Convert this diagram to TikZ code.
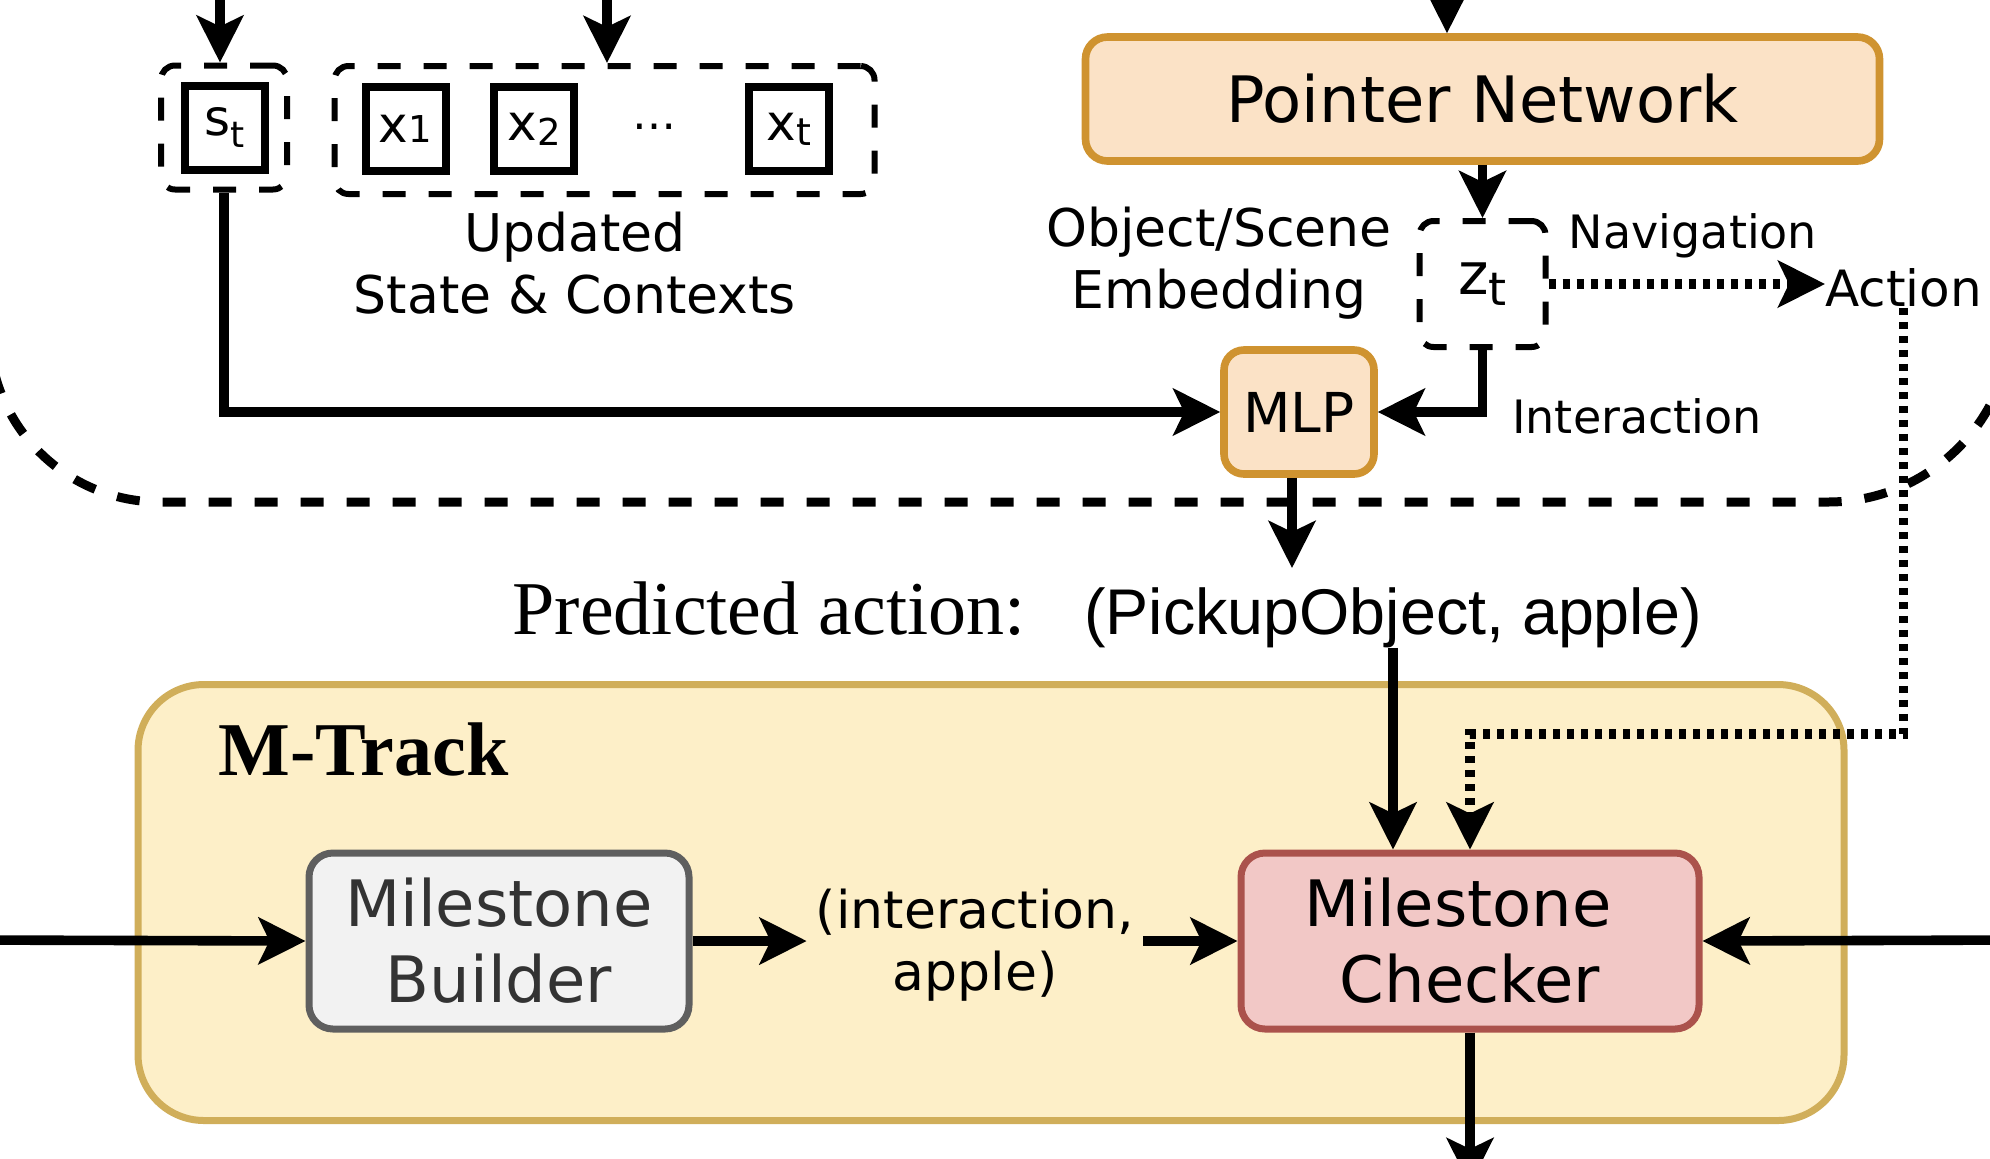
\documentclass[tikz,border=0pt]{standalone}
\usepackage{fontspec}
\setmainfont{DejaVu Sans}
\newfontfamily\arialf{Liberation Sans}
\newfontfamily\timesf{Liberation Serif}
\usetikzlibrary{arrows.meta}
\definecolor{pnfill}{HTML}{FBE2C6}
\definecolor{pnline}{HTML}{CF9330}
\definecolor{mtfill}{HTML}{FDEFC8}
\definecolor{mtline}{HTML}{D0AE5A}
\definecolor{gyfill}{HTML}{F2F2F2}
\definecolor{gyline}{HTML}{5F5F5F}
\definecolor{gytext}{HTML}{333333}
\definecolor{rdfill}{HTML}{F2C8C6}
\definecolor{rdline}{HTML}{AB524C}
\newcommand{\lowsub}[3]{\raisebox{#1}{\fontsize{#2}{#2}\selectfont #3}}
\begin{document}
\begin{tikzpicture}[x=0.5pt,y=-0.5pt,
  tip/.style={-{Stealth[length=23.5pt,width=23.5pt,inset=5.5pt]}},
  conn/.style={line width=4.8pt,tip},
  dotconn/.style={line width=4.6pt,dash pattern=on 3.5pt off 3.5pt,tip},
  dashbox/.style={draw,line width=3pt,dash pattern=on 11.5pt off 11.5pt,rounded corners=7pt,inner sep=0pt},
  solidbox/.style={draw,line width=4pt,inner sep=0pt,minimum width=40pt,minimum height=42pt,font=\fontsize{25}{30}\selectfont},
  orangebox/.style={draw=pnline,fill=pnfill,line width=3.8pt,rounded corners=11pt,inner sep=0pt},
  lbl/.style={inner sep=0pt,align=center},
]
\useasboundingbox (0,0) rectangle (1990,1158);
\clip (0,0) rectangle (1990,1158);

% big dashed outline (bottom of an outer container)
\draw[line width=4.5pt,dash pattern=on 11.5pt off 11.5pt]
  (-10.5,280) -- (-10.5,331.5) .. controls (-10.5,425.7) and (65.8,502) .. (160,502)
  -- (1828,502) .. controls (1929.6,502) and (2012,419.6) .. (2012,318) -- (2012,280);

% state and contexts
\node[dashbox,minimum width=63pt,minimum height=62pt] (stg) at (224,127.5) {};
\node[solidbox] (st) at (224.5,127.5) {s\lowsub{-6pt}{18}{t}};
\node[dashbox,minimum width=270pt,minimum height=64pt] (xg) at (604.5,130) {};
\node[solidbox] (x1) at (405.5,129) {x\lowsub{0pt}{18.5}{1}};
\node[solidbox] (x2) at (534,129) {x\lowsub{-2.5pt}{18.5}{2}};
\node[lbl,font=\fontsize{22}{26}\selectfont] (dots) at (654,127) {…};
\node[solidbox] (xt) at (789,129) {x\lowsub{-2.5pt}{19}{t}};
\node[lbl,font=\fontsize{26}{31}\selectfont] (upd) at (575,263) {Updated\\State \& Contexts};

% pointer network side
\node[orangebox,minimum width=397pt,minimum height=62pt,font=\fontsize{32}{38}\selectfont] (pn) at (1482.5,99) {Pointer Network};
\node[dashbox,minimum width=63pt,minimum height=63pt,font=\fontsize{29}{34}\selectfont] (zt) at (1482.5,284) {z\lowsub{-5.5pt}{23}{t}};
\node[orangebox,minimum width=75pt,minimum height=62pt,rounded corners=10pt,font=\fontsize{27.5}{33}\selectfont] (mlp) at (1299,412) {MLP};
\node[lbl,font=\fontsize{26}{31}\selectfont] (emb) at (1219,263) {Object/Scene\\Embedding};
\node[lbl,font=\fontsize{23}{28}\selectfont] (nav) at (1693,236) {Navigation};
\node[lbl,font=\fontsize{25}{30}\selectfont,anchor=west] (act) at (1825,288) {Action};
\node[lbl,font=\fontsize{23}{28}\selectfont] (intl) at (1637,416) {Interaction};

% predicted action
\node[lbl,font=\timesf\fontsize{38}{44}\selectfont,anchor=base] (pred) at (769,634) {Predicted action:};
\node[lbl,font=\arialf\fontsize{32.3}{38}\selectfont,anchor=base] (pick) at (1393,634) {(PickupObject, apple)};

% M-Track
\node[draw=mtline,fill=mtfill,line width=3.5pt,rounded corners=33pt,minimum width=853pt,minimum height=218pt,inner sep=0pt] (mt) at (991,902.5) {};
\node[lbl,font=\timesf\bfseries\fontsize{38}{44}\selectfont,anchor=base west] (mtl) at (218,775) {M-Track};
\node[draw=gyline,fill=gyfill,text=gytext,line width=3.5pt,rounded corners=12pt,minimum width=190pt,minimum height=88pt,inner sep=0pt,align=center,font=\fontsize{32}{38}\selectfont] (mb) at (499,941) {Milestone\\Builder};
\node[draw=rdline,fill=rdfill,line width=3.5pt,rounded corners=12pt,minimum width=229pt,minimum height=88pt,inner sep=0pt,align=center,font=\fontsize{32}{38}\selectfont] (chk) at (1470,941) {Milestone\hspace*{12pt}\\Checker};
\node[lbl,inner sep=4.5pt,font=\fontsize{26}{31}\selectfont] (inter) at (975,945) {(interaction,\\apple)};

% free ends
\coordinate (topA) at (220,-40);
\coordinate (topB) at (607,-40);
\coordinate (topC) at (1447,-40);
\coordinate (predtip) at (1292,568);
\coordinate (dotc) at (1470,734);
\coordinate (lin) at (-30,940);
\coordinate (rin) at (2020,940);
\coordinate (bout) at (1470,1185);

% connectors
\draw[conn] (topA) -- (topA |- stg.north);
\draw[conn] (topB) -- (topB |- xg.north);
\draw[conn] (topC) -- (topC |- pn.north);
\draw[conn] (stg.south) -- (stg.south |- mlp.west) -- (mlp.west);
\draw[conn] (pn.south) -- (zt.north);
\draw[conn] (zt.south) -- (zt.south |- mlp.east) -- (mlp.east);
\draw[dotconn] (zt.east) -- (zt.east -| act.west);
\draw[conn] (mlp.south -| predtip) -- (predtip);
\draw[conn] (pick.south) -- (pick.south |- chk.north);
\draw[dotconn] (act.south) -- (act.south |- dotc) -- (dotc) -- (chk.north);
\draw[conn] (lin) -- (mb.west);
\draw[conn] (mb.east) -- (mb.east -| inter.west);
\draw[conn] (inter.east |- chk.west) -- (chk.west);
\draw[conn] (rin) -- (chk.east);
\draw[conn] (chk.south) -- (bout);
\end{tikzpicture}
\end{document}
